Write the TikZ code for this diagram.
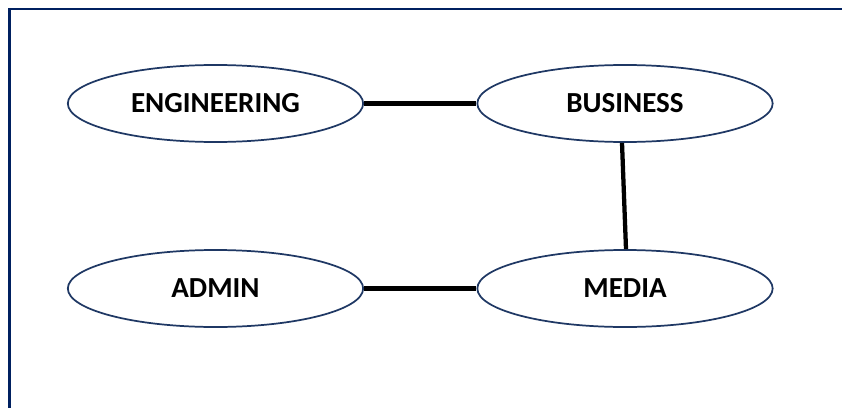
\documentclass[tikz,border=0pt]{standalone}
\usepackage{fontspec}
\setmainfont{Carlito}
\usetikzlibrary{shapes.geometric}
\definecolor{framenavy}{HTML}{002060}
\definecolor{ovalnavy}{HTML}{1F3864}
\begin{document}
\begin{tikzpicture}[x=0.75pt,y=-0.75pt,
  unit/.style={draw=ovalnavy, line width=1.3pt, ellipse, fill=white,
    minimum width=221.5pt, minimum height=57.75pt, inner sep=0pt,
    font=\fontsize{21.8}{24}\selectfont\bfseries},
  link/.style={line width=3.2pt, black}]
  \useasboundingbox (0,0) rectangle (842,407);
  % page frame
  \draw[framenavy, line width=1.6pt] (9.5,410) -- (9.5,9) -- (845,9);
  % departments
  \node[unit] (eng) at (215.5,103.5) {ENGINEERING};
  \node[unit] (bus) at (625,103.5) {BUSINESS};
  \node[unit] (adm) at (215.5,288.5) {ADMIN};
  \node[unit] (med) at (625,288.5) {MEDIA};
  % links
  \draw[link] (eng.east) -- (bus.west);
  \draw[link] ([xshift=-2.25pt]bus.south) -- ([xshift=0.75pt]med.north);
  \draw[link] (adm.east) -- (med.west);
\end{tikzpicture}
\end{document}
